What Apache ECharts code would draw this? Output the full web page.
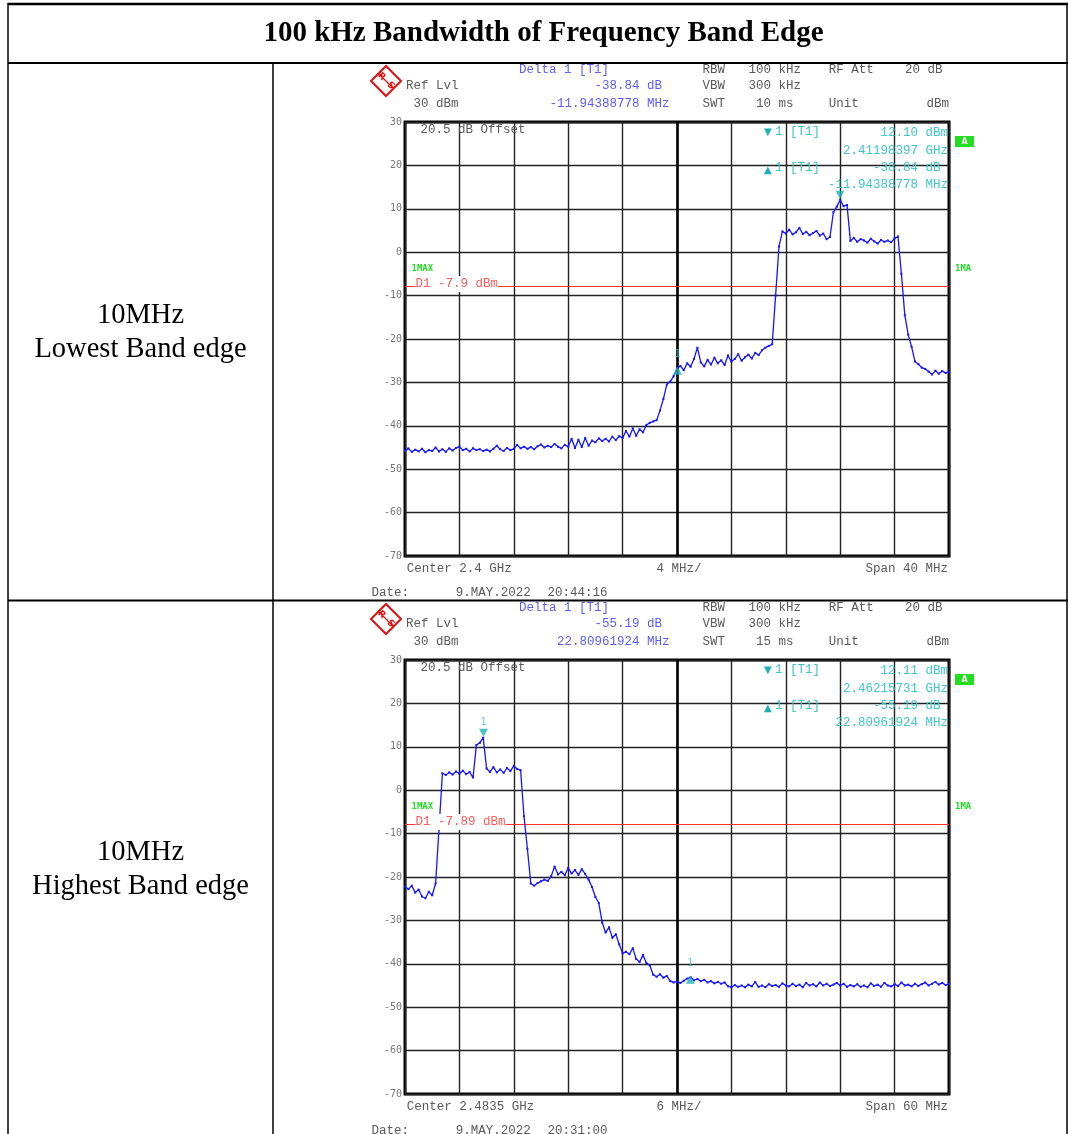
<!DOCTYPE html>
<html><head><meta charset="utf-8">
<script src="https://cdn.jsdelivr.net/npm/echarts@6/dist/echarts.min.js"></script>
<style>html,body{margin:0;padding:0;background:#fff}#c{width:1068px;height:1134px}</style>
</head><body><div id="c"></div>
<script>
// ---------------- data ----------------
const titleText = '100 kHz Bandwidth of Frequency Band Edge';
const rowLabels1 = ['10MHz', 'Lowest Band edge'];
const rowLabels2 = ['10MHz', 'Highest Band edge'];
const yTicks = [30, 20, 10, 0, -10, -20, -30, -40, -50, -60, -70];

// Plot 1: center 2400 MHz, span 40 MHz, sweep offsets from center (MHz)
const center1MHz = 2400, span1 = 40, div1 = 4, sweepStart1 = -20, sweepStep1 = 0.25;
const level1 = [
  -45.8,-45.2,-46.0,-45.5,-45.9,-45.3,-46.1,-45.6,-45.8,-45.0,
  -45.9,-45.4,-46.0,-45.2,-45.7,-45.1,-44.8,-45.6,-45.3,-45.9,
  -45.2,-45.6,-45.4,-45.8,-45.5,-45.9,-45.3,-44.6,-45.4,-45.8,
  -45.1,-45.6,-45.3,-44.4,-45.2,-44.8,-45.3,-44.9,-45.4,-44.7,
  -44.3,-45.0,-44.6,-44.9,-44.2,-44.8,-45.2,-44.4,-44.8,-43.0,
  -45.1,-43.2,-44.9,-42.8,-44.6,-43.4,-43.8,-42.9,-43.5,-43.0,
  -43.6,-42.5,-43.3,-42.4,-42.8,-41.2,-42.5,-40.6,-42.3,-40.8,
  -41.5,-39.8,-39.3,-39.0,-38.7,-36.5,-33.8,-30.5,-29.8,-28.6,
  -26.8,-26.2,-27.2,-25.6,-26.4,-24.6,-22.0,-25.4,-26.3,-24.8,
  -25.9,-24.3,-25.6,-24.9,-26.0,-23.8,-25.2,-24.6,-23.5,-25.0,
  -24.2,-23.6,-24.5,-23.2,-23.7,-22.6,-22.0,-21.6,-21.2,-10.0,
  1.3,4.8,4.3,5.2,4.1,4.6,5.6,4.2,4.7,3.9,
  4.4,4.9,3.8,4.3,3.0,3.5,9.2,10.5,12.1,10.6,
  10.9,2.6,3.3,2.4,3.0,2.7,2.2,3.1,2.5,2.0,
  2.8,2.4,2.7,2.3,3.2,3.6,-5.0,-14.5,-19.0,-21.8,
  -25.2,-25.8,-26.6,-26.9,-27.5,-28.2,-27.3,-28.0,-27.4,-27.8,
  -27.6
];
const peak1 = [11.98397, 12.10];          // offset MHz, dBm
const delta1 = [-11.94388778, -38.84];    // MHz, dB
const display1 = -7.9;
const swt1 = '10 ms', date1 = '9.MAY.2022', time1 = '20:44:16';

// Plot 2: center 2483.5 MHz, span 60 MHz
const center2MHz = 2483.5, span2 = 60, div2 = 6, sweepStart2 = -30, sweepStep2 = 0.375;
const level2 = [
  -22.2,-22.8,-22.0,-23.6,-22.9,-24.5,-24.9,-23.4,-24.2,-21.5,
  -9.0,3.9,3.5,4.1,3.6,4.3,3.8,4.5,3.7,4.2,
  2.9,10.4,10.9,12.1,5.0,4.2,5.3,4.1,4.8,4.0,
  5.1,4.4,5.6,4.9,4.6,-6.0,-13.5,-21.5,-22.0,-21.4,
  -21.0,-20.6,-20.9,-19.8,-17.6,-19.4,-18.8,-19.6,-17.9,-19.2,
  -18.4,-19.5,-18.2,-19.3,-20.6,-22.3,-24.6,-26.0,-30.5,-32.8,
  -31.6,-34.0,-33.2,-35.5,-37.6,-37.2,-37.8,-36.4,-38.9,-39.6,
  -38.0,-39.8,-40.4,-42.5,-43.0,-42.4,-43.2,-42.8,-44.0,-44.3,
  -44.1,-44.4,-43.9,-43.4,-43.1,-43.8,-43.5,-44.0,-43.7,-44.3,
  -44.0,-44.5,-44.2,-44.6,-44.3,-45.2,-45.4,-44.9,-45.3,-45.0,
  -45.4,-44.8,-45.2,-44.2,-45.3,-45.0,-45.4,-44.7,-45.1,-44.9,
  -45.3,-44.5,-45.0,-45.2,-44.6,-45.1,-44.8,-45.4,-44.4,-45.0,
  -44.7,-45.2,-44.3,-45.0,-44.6,-45.1,-44.8,-44.4,-45.0,-44.6,
  -45.3,-44.9,-45.2,-44.7,-45.3,-45.0,-45.4,-44.5,-45.1,-44.8,
  -45.3,-44.4,-45.0,-45.2,-44.7,-45.1,-44.3,-45.0,-44.8,-45.2,
  -44.6,-45.1,-44.7,-44.3,-45.0,-44.6,-44.2,-44.8,-44.4,-44.9,
  -44.6
];
const peak2 = [-21.34269, 12.11];
const delta2 = [22.80961924, -55.19];
const display2 = -7.89;
const swt2 = '15 ms', date2 = '9.MAY.2022', time2 = '20:31:00';

// ---------------- chart ----------------
const mono = '"Liberation Mono", "Courier New", monospace';
const gray = '#5a5a5a', blue = '#5c5cff', cyan = '#3fc6c8', teal = '#1fb0b6', green = '#22dd22', red = '#ff3030';
const plotLeft = 405, plotW = 544, plotH = 434;
const plotTops = [122, 660];

function T(x, y, s, color, extra) {
  return { type: 'text', z: 100, silent: true,
    style: Object.assign({ x: x, y: y, text: s, fill: color, font: '12.5px ' + mono,
      textVerticalAlign: 'middle', textAlign: 'left' }, extra || {}) };
}
function L(x1, y1, x2, y2, w) {
  return { type: 'line', z: 100, silent: true, shape: { x1, y1, x2, y2 }, style: { stroke: '#000', lineWidth: w } };
}

function plotGraphics(dy, centerMHz, spanMHz, divMHz, peak, delta, display, swt, date, time, centerLabel) {
  const g = [];
  // R&S logo
  g.push({ type: 'polygon', z: 100, silent: true,
    shape: { points: [[386, 66 + dy], [401, 81 + dy], [386, 96 + dy], [371, 81 + dy]] },
    style: { fill: '#fff', stroke: '#e01010', lineWidth: 2 } });
  g.push({ type: 'line', z: 100, silent: true, shape: { x1: 378.5, y1: 73.5 + dy, x2: 393.5, y2: 88.5 + dy },
    style: { stroke: '#e01010', lineWidth: 1.2 } });
  g.push({ type: 'text', z: 101, silent: true, x: 386, y: 81 + dy, rotation: -Math.PI / 4,
    style: { x: 0, y: 0, text: 'R  S', fill: '#e01010', font: 'bold 9px "DejaVu Sans"', textAlign: 'center', textVerticalAlign: 'middle' } });
  // header
  g.push(T(519, 70 + dy, 'Delta 1 [T1]', blue));
  g.push(T(702.5, 70 + dy, 'RBW', gray));
  g.push(T(748.4, 70 + dy, '100 kHz', gray));
  g.push(T(828.8, 70 + dy, 'RF Att', gray));
  g.push(T(905, 70 + dy, '20 dB', gray));
  g.push(T(406, 86 + dy, 'Ref Lvl', gray));
  g.push(T(669.5, 86 + dy, delta[1].toFixed(2) + ' dB ', blue, { textAlign: 'right' }));
  g.push(T(702.5, 86 + dy, 'VBW', gray));
  g.push(T(748.4, 86 + dy, '300 kHz', gray));
  g.push(T(413.6, 104 + dy, '30 dBm', gray));
  g.push(T(669.5, 104 + dy, delta[0].toFixed(8) + ' MHz', blue, { textAlign: 'right' }));
  g.push(T(702.5, 104 + dy, 'SWT', gray));
  g.push(T(756, 104 + dy, swt, gray));
  g.push(T(828.8, 104 + dy, 'Unit', gray));
  g.push(T(949, 104 + dy, 'dBm', gray, { textAlign: 'right' }));
  // inside plot
  g.push(T(420.5, 130 + dy, '20.5 dB Offset', gray));
  g.push(T(764, 132 + dy, '\u25BC', teal, { font: '10px "DejaVu Sans"' }));
  g.push(T(775, 132 + dy, '1 [T1]', cyan));
  g.push(T(948, 133 + dy, peak[1].toFixed(2) + ' dBm', cyan, { textAlign: 'right' }));
  g.push(T(948, 150.5 + dy, ((centerMHz + peak[0]) / 1000).toFixed(8) + ' GHz', cyan, { textAlign: 'right' }));
  g.push(T(764, 170 + dy, '\u25B2', teal, { font: '10px "DejaVu Sans"' }));
  g.push(T(775, 168 + dy, '1 [T1]', cyan));
  g.push(T(948, 168 + dy, delta[1].toFixed(2) + ' dB ', cyan, { textAlign: 'right' }));
  g.push(T(948, 185 + dy, delta[0].toFixed(8) + ' MHz', cyan, { textAlign: 'right' }));
  // green A box
  g.push({ type: 'rect', z: 100, silent: true, shape: { x: 955, y: 136 + dy, width: 19, height: 11 }, style: { fill: green } });
  g.push(T(964.5, 141.5 + dy, 'A', '#fff', { font: 'bold 8px "DejaVu Sans"', textAlign: 'center' }));
  // trace labels
  g.push(T(411.5, 268.5 + dy, '1MAX', green, { font: 'bold 9px "DejaVu Sans Mono"' }));
  g.push(T(955, 268.5 + dy, '1MA', green, { font: 'bold 9px "DejaVu Sans Mono"' }));
  // display line label
  const dlY = plotTops[dy ? 1 : 0] + (30 - display) / 100 * plotH;
  g.push(T(415.5, dlY - 2.5, 'D1 ' + display + ' dBm', '#ff5a5a',
    { backgroundColor: '#fff', padding: [1, 0, 2, 0] }));
  // footer
  g.push(T(406.7, 568.5 + dy, 'Center ' + centerLabel, gray));
  g.push(T(656.6, 568.5 + dy, divMHz + ' MHz/', gray));
  g.push(T(948, 568.5 + dy, 'Span ' + spanMHz + ' MHz', gray, { textAlign: 'right' }));
  g.push(T(371.5, 592.3 + dy, 'Date:', gray));
  g.push(T(455.7, 592.3 + dy, date, gray));
  g.push(T(547.5, 592.3 + dy, time, gray));
  return g;
}

const graphics = [
  L(8, 4, 1068, 4, 2.5), L(8, 3, 8, 1134, 1.5), L(1067, 3, 1067, 1134, 1.5),
  L(8, 63, 1068, 63, 2), L(8, 600.5, 1068, 600.5, 2), L(273, 63, 273, 1134, 1.5),
  { type: 'text', z: 100, silent: true, style: { x: 543.5, y: 34, text: titleText, fill: '#000',
    font: 'bold 29px "Liberation Serif", "Times New Roman", serif', textAlign: 'center', textVerticalAlign: 'middle' } },
  { type: 'text', z: 100, silent: true, style: { x: 140.5, y: 316, text: rowLabels1[0], fill: '#000',
    font: '28.5px "Liberation Serif", serif', textAlign: 'center', textVerticalAlign: 'middle' } },
  { type: 'text', z: 100, silent: true, style: { x: 140.5, y: 350, text: rowLabels1[1], fill: '#000',
    font: '28.5px "Liberation Serif", serif', textAlign: 'center', textVerticalAlign: 'middle' } },
  { type: 'text', z: 100, silent: true, style: { x: 140.5, y: 853, text: rowLabels2[0], fill: '#000',
    font: '28.5px "Liberation Serif", serif', textAlign: 'center', textVerticalAlign: 'middle' } },
  { type: 'text', z: 100, silent: true, style: { x: 140.5, y: 887, text: rowLabels2[1], fill: '#000',
    font: '28.5px "Liberation Serif", serif', textAlign: 'center', textVerticalAlign: 'middle' } }
].concat(
  plotGraphics(0, center1MHz, span1, div1, peak1, delta1, display1, swt1, date1, time1, (center1MHz / 1000) + ' GHz'),
  plotGraphics(538, center2MHz, span2, div2, peak2, delta2, display2, swt2, date2, time2, (center2MHz / 1000) + ' GHz')
);

function xAxisFor(idx, span, div) {
  return { gridIndex: idx, type: 'value', min: -span / 2, max: span / 2, interval: div,
    axisLine: { show: false }, axisTick: { show: false }, axisLabel: { show: false },
    splitLine: { show: true, lineStyle: { color: '#222', width: 1.4 } } };
}
function yAxisFor(idx) {
  return { gridIndex: idx, type: 'value', min: yTicks[yTicks.length - 1], max: yTicks[0], interval: 10,
    axisLine: { show: false }, axisTick: { show: false },
    axisLabel: { show: true, margin: 3, color: '#777', fontSize: 10, fontFamily: '"DejaVu Sans Mono", monospace',
      verticalAlign: 'middle', padding: [0, 0, 5, 0] },
    splitLine: { show: true, lineStyle: { color: '#222', width: 1.4 } } };
}
function traceData(start, step, levels) {
  return levels.map((v, i) => [start + i * step, v]);
}
function traceSeries(idx, data, display) {
  return {
    type: 'line', xAxisIndex: idx, yAxisIndex: idx, data: data, z: 5,
    showSymbol: true, symbol: 'rect', symbolSize: 2, animation: false, silent: true,
    lineStyle: { color: '#1515ff', width: 1.3 }, itemStyle: { color: '#1515ff' },
    markLine: { silent: true, symbol: 'none', animation: false, label: { show: false },
      data: [{ yAxis: display, lineStyle: { color: red, width: 1.2, type: 'solid' } }] }
  };
}
function centerLine(idx) {
  return { type: 'line', xAxisIndex: idx, yAxisIndex: idx, data: [], z: 1,
    markLine: { silent: true, symbol: 'none', animation: false, label: { show: false },
      data: [{ xAxis: 0, lineStyle: { color: '#000', width: 2.6, type: 'solid' } }] } };
}
function markerSeries(idx, peak, delta, showPeakLabel) {
  const dpt = [peak[0] + delta[0], peak[1] + delta[1]];
  return [
    { type: 'scatter', xAxisIndex: idx, yAxisIndex: idx, z: 10, silent: true, animation: false,
      data: [peak], symbol: 'triangle', symbolRotate: 180, symbolSize: [9, 8], symbolOffset: [0, -5],
      itemStyle: { color: teal },
      label: { show: showPeakLabel, formatter: '1', position: 'top', distance: 1, color: cyan, fontSize: 10,
        fontFamily: '"DejaVu Sans Mono", monospace' } },
    { type: 'scatter', xAxisIndex: idx, yAxisIndex: idx, z: 10, silent: true, animation: false,
      data: [dpt], symbol: 'triangle', symbolSize: [9, 8], symbolOffset: [0, 2.5],
      itemStyle: { color: teal },
      label: { show: true, formatter: '1', position: 'top', distance: 7, color: cyan, fontSize: 10,
        fontFamily: '"DejaVu Sans Mono", monospace' } }
  ];
}

const chart = echarts.init(document.getElementById('c'), null, { renderer: 'canvas' });
chart.setOption({
  animation: false,
  backgroundColor: '#fff',
  grid: plotTops.map(t => ({ left: plotLeft, top: t, width: plotW, height: plotH, show: true,
    borderColor: '#000', borderWidth: 3, backgroundColor: 'transparent' })),
  xAxis: [xAxisFor(0, span1, div1), xAxisFor(1, span2, div2)],
  yAxis: [yAxisFor(0), yAxisFor(1)],
  series: [
    centerLine(0), centerLine(1),
    traceSeries(0, traceData(sweepStart1, sweepStep1, level1), display1),
    traceSeries(1, traceData(sweepStart2, sweepStep2, level2), display2)
  ].concat(markerSeries(0, peak1, delta1, false), markerSeries(1, peak2, delta2, true)),
  graphic: graphics
});
</script></body></html>
